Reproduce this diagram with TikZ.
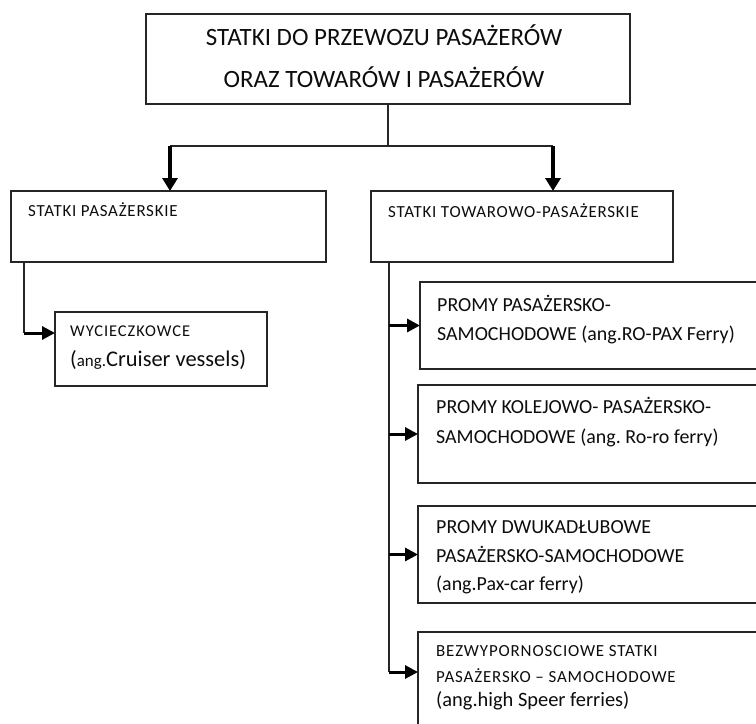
\documentclass[tikz,border=0pt]{standalone}
\usepackage{fontspec}
\setmainfont{Carlito}
\usetikzlibrary{arrows.meta,calc}
\frenchspacing
\tikzset{
  box/.style={draw=black!85, line width=1.3bp, anchor=north west, inner sep=0pt, outer sep=0pt},
  lbl/.style={anchor=base west, inner sep=0pt, text=black!95},
  ctr/.style={anchor=base, inner sep=0pt, text=black!95},
  thinline/.style={draw=black!85, line width=1.3bp},
  downarrow/.style={draw=black, line width=3.5bp, -{Triangle[length=13bp,width=15bp]}},
  sidearrow/.style={draw=black, line width=3bp, -{Triangle[length=13bp,width=13bp]}},
}
\newcommand\fsz[1]{\fontsize{#1}{#1}\selectfont}
\newcommand\spc[1]{\addfontfeature{LetterSpace=#1}}
\begin{document}
\begin{tikzpicture}[x=1bp,y=-1bp]
\useasboundingbox (0,0) rectangle (756,724);
\clip (0,0) rectangle (756,724);
\fill[white] (0,0) rectangle (756,724);

% boxes
\node[box, minimum width=484bp, minimum height=90bp] (top) at (146,14) {};
\node[box, minimum width=315bp, minimum height=71bp] (pas) at (11,191) {};
\node[box, minimum width=302bp, minimum height=71bp] (tow) at (371,191) {};
\node[box, minimum width=212bp, minimum height=74bp] (cru) at (55,312) {};
\node[box, minimum width=360bp, minimum height=87bp] (p1) at (420,282) {};
\node[box, minimum width=360bp, minimum height=98bp] (p2) at (418,385) {};
\node[box, minimum width=360bp, minimum height=97bp] (p3) at (418,506) {};
\node[box, minimum width=360bp, minimum height=110bp] (p4) at (418,632) {};

% texts
\node[ctr] (t1) at (384,46) {\fsz{25}STATKI DO PRZEWOZU PASAŻERÓW};
\node[ctr] (t2) at (384,88) {\fsz{25}ORAZ TOWARÓW I PASAŻERÓW};
\node[lbl] (tpas) at (28,216) {\fsz{17}\spc{4.5}STATKI PASAŻERSKIE};
\node[lbl] (ttow) at (388,217) {\fsz{17}\spc{4.5}STATKI TOWAROWO-PASAŻERSKIE};
\node[lbl] (tc1) at (70,336) {\fsz{16.5}\spc{6}WYCIECZKOWCE};
\node[lbl] (tc2) at (70,366) {{\fsz{22}(}{\fsz{17}ang.}{\fsz{22.5}Cruiser vessels)}};
\node[lbl] (ta1) at (437,311) {\fsz{20}PROMY PASAŻERSKO-};
\node[lbl] (ta2) at (437,340) {\fsz{20}SAMOCHODOWE (ang.RO-PAX Ferry)};
\node[lbl] (tb1) at (436,413) {\fsz{20}PROMY KOLEJOWO- PASAŻERSKO-};
\node[lbl] (tb2) at (436,443) {\fsz{20}SAMOCHODOWE (ang. Ro-ro ferry)};
\node[lbl] (tx1) at (436,533) {\fsz{20}PROMY DWUKADŁUBOWE};
\node[lbl] (tx2) at (436,562) {\fsz{20}PASAŻERSKO-SAMOCHODOWE};
\node[lbl] (tx3) at (436,590) {\fsz{20}(ang.Pax-car ferry)};
\node[lbl] (td1) at (436,656) {\fsz{17}\spc{5}BEZWYPORNOSCIOWE STATKI};
\node[lbl] (td2) at (436,682) {\fsz{17}\spc{5}PASAŻERSKO – SAMOCHODOWE};
\node[lbl] (td3) at (436,706) {\fsz{20.5}(ang.high Speer ferries)};

% connectors
\coordinate (hub) at (top.south |- 0,146);
\coordinate (jl) at (170,146);
\coordinate (jr) at (553,146);
\draw[thinline] (top.south) -- (hub);
\draw[thinline] (jl) -- (jr);
\draw[downarrow] (jl) -- (jl |- pas.north);
\draw[downarrow] (jr) -- (jr |- tow.north);

\coordinate (ls) at ($(pas.south west)+(13,0)$);
\coordinate (lc) at (ls |- 0,333);
\draw[thinline] (ls) -- (lc);
\draw[sidearrow] (lc) -- (cru.west |- lc);

\coordinate (rs) at ($(tow.south west)+(18,0)$);
\coordinate (re) at (rs |- 0,672);
\coordinate (p4in) at (p4.west |- re);
\draw[thinline] (rs) -- (re);
\draw[sidearrow] (p1.west -| rs) -- (p1.west);
\draw[sidearrow] (p2.west -| rs) -- (p2.west);
\draw[sidearrow] (p3.west -| rs) -- (p3.west);
\draw[sidearrow] (re) -- (p4in);
\end{tikzpicture}
\end{document}
